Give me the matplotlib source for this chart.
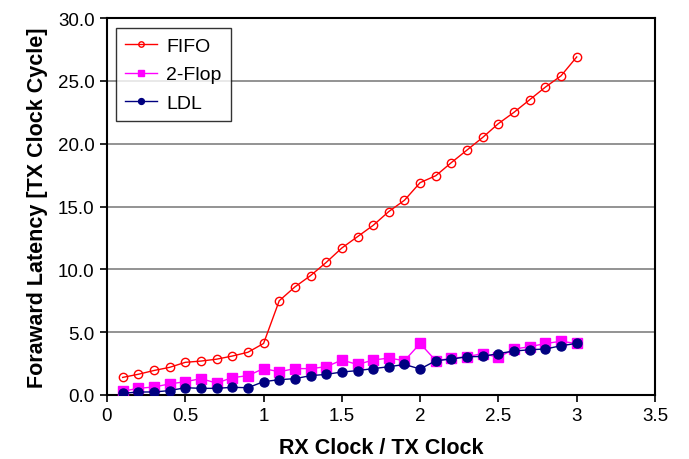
import matplotlib
matplotlib.use("Agg")
import matplotlib.pyplot as plt
from matplotlib.ticker import FuncFormatter, MultipleLocator

plt.rcParams['font.family'] = ['Liberation Sans', 'DejaVu Sans']

ratio = [0.1, 0.2, 0.3, 0.4, 0.5, 0.6, 0.7, 0.8, 0.9, 1.0,
         1.1, 1.2, 1.3, 1.4, 1.5, 1.6, 1.7, 1.8, 1.9, 2.0,
         2.1, 2.2, 2.3, 2.4, 2.5, 2.6, 2.7, 2.8, 2.9, 3.0]
fifo = [1.4, 1.65, 1.95, 2.2, 2.6, 2.7, 2.85, 3.1, 3.4, 4.1,
        7.5, 8.6, 9.5, 10.55, 11.7, 12.6, 13.5, 14.6, 15.5, 16.9,
        17.45, 18.5, 19.5, 20.5, 21.6, 22.5, 23.5, 24.5, 25.4, 26.9]
two_flop = [0.3, 0.53, 0.64, 0.88, 1.06, 1.3, 0.95, 1.38, 1.54, 2.1,
            1.85, 2.1, 2.1, 2.25, 2.78, 2.43, 2.78, 2.94, 2.73, 4.1,
            2.73, 2.92, 3.05, 3.3, 3.0, 3.66, 3.84, 4.1, 4.27, 4.1]
ldl = [0.13, 0.24, 0.24, 0.35, 0.58, 0.53, 0.53, 0.61, 0.58, 1.06,
       1.22, 1.3, 1.54, 1.64, 1.83, 1.94, 2.1, 2.25, 2.43, 2.07,
       2.73, 2.86, 3.04, 3.07, 3.3, 3.5, 3.6, 3.66, 3.92, 4.11]

fig = plt.figure(figsize=(6.89, 4.60), dpi=100)
ax = fig.add_axes([107/689, 1-396/460, (655-107)/689, (396-19)/460])

ax.plot(ratio, fifo, color='#ff0000', lw=1.0, marker='o', ms=6,
        mfc='none', mec='#ff0000', mew=1.0, label='FIFO', zorder=4)
ax.plot(ratio, two_flop, color='#ff00ff', lw=1.0, marker='s', ms=6.5,
        mfc='#ff00ff', mec='#ff00ff', label='2-Flop', zorder=3)
ax.plot(ratio, ldl, color='#000080', lw=1.0, marker='o', ms=6.5,
        mfc='#000080', mec='#000080', label='LDL', zorder=5)

ax.set_xlim(0, 3.5)
ax.set_ylim(0, 30)
ax.xaxis.set_major_locator(MultipleLocator(0.5))
ax.yaxis.set_major_locator(MultipleLocator(5))
ax.xaxis.set_major_formatter(FuncFormatter(lambda v, p: ('%g' % v)))
ax.yaxis.set_major_formatter(FuncFormatter(lambda v, p: '%.1f' % v))

ax.yaxis.grid(True, color='#808080', lw=1.2)
ax.set_axisbelow(True)
for s in ax.spines.values():
    s.set_color('black')
    s.set_linewidth(1.5)
ax.tick_params(axis='both', direction='out', length=5, width=1.2,
               labelsize=13.5, colors='black', pad=4)

ax.set_xlabel('RX Clock / TX Clock', fontsize=15.5, fontweight='bold', labelpad=9)
ax.set_ylabel('Foraward Latency [TX Clock Cycle]', fontsize=15.5,
              fontweight='bold', labelpad=7)

leg = ax.legend(loc='upper left', bbox_to_anchor=(0.016, 0.974), fontsize=14,
                frameon=True, fancybox=False, edgecolor='black',
                handlelength=1.6, markerscale=0.65, borderpad=0.5,
                labelspacing=0.55, handletextpad=0.5, borderaxespad=0)
leg.get_frame().set_linewidth(1.0)

fig.savefig('out.png', dpi=100)
